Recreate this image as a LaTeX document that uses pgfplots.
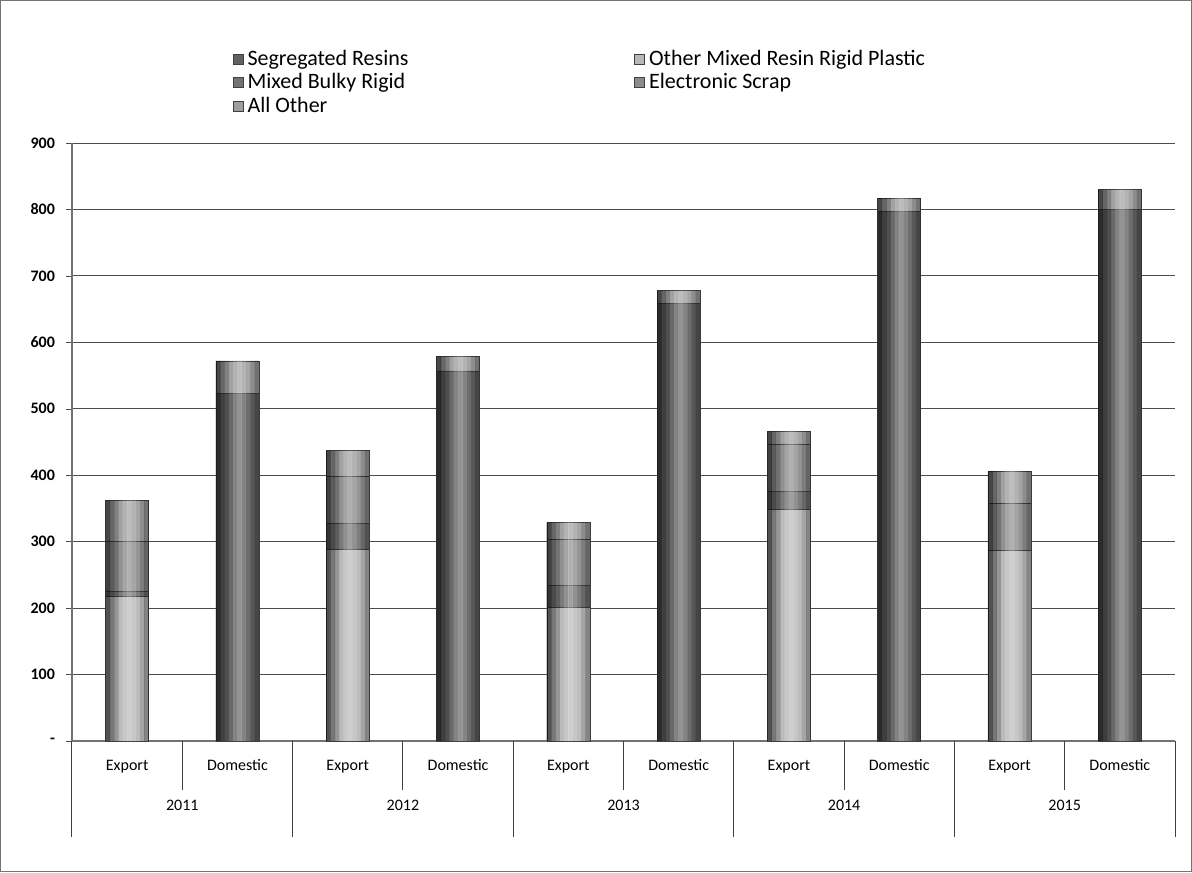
\documentclass[border=0pt]{standalone}
\usepackage{fontspec}
\setmainfont{Carlito}
\usepackage{pgfplots}
\usepackage{pgfplotstable}
\pgfplotsset{compat=1.18}

% bottom to top: Segregated Resins, Other Mixed Resin, Mixed Bulky, Electronic Scrap, All Other
\pgfplotstableread{
x SR OMR MBR ES AO tot
0 0 217 8 75 62 362
1 523 0 0 0 49 572
2 0 288 40 71 38 437
3 557 0 0 0 22 579
4 0 201 33 70 25 329
5 659 0 0 0 19 678
6 0 349 26 72 19 466
7 797 0 0 0 20 817
8 0 287 0 70 49 406
9 800 0 0 0 30 830
}\data

\pgfplotsset{
  base/.style={
    at={(36pt,65.5pt)}, anchor=south west,
    width=551.5pt, height=299pt, scale only axis,
    xmin=-0.5, xmax=9.5, ymin=0, ymax=900,
  },
  seg/.style={draw=black!75, line width=0.35pt, fill=#1},
  stripe/.style={ybar, bar width=2.3pt, bar shift=#1, draw=none, forget plot},
}

\begin{document}
\begin{tikzpicture}
\path[use as bounding box] (0pt,0pt) rectangle (596pt,436pt);
\draw[black!55, line width=0.6pt] (0.4pt,0.4pt) rectangle (595.6pt,435.6pt);
\begin{axis}[
    base,
    ybar stacked, bar width=21.5pt,
    ytick={0,100,...,900},
    yticklabels={\textup{-},100,200,300,400,500,600,700,800,900},
    xtick=\empty,
    ymajorgrids,
    grid style={black!70, line width=0.5pt},
    axis x line*=bottom, axis y line*=left,
    axis line style={-, black!55, line width=0.6pt},
    tick align=outside, major tick length=3pt,
    y tick style={black!70},
    y tick label style={font=\fontsize{8}{9}\selectfont\bfseries, xshift=-2pt},
    clip=false,
    legend columns=2,
    legend cell align=left,
    legend style={at={(axis description cs:0.14,1.170)}, anchor=north west,
        draw=none, fill=none, font=\fontsize{11}{12}\selectfont,
        /tikz/every even column/.append style={column sep=111pt},
        row sep=-1.2pt},
    legend image code/.code={\fill[#1] (0pt,-2.5pt) rectangle (5pt,2.5pt);},
]
\addplot[seg=black!62] table[x=x,y=SR] {\data};
\addlegendentry{Segregated Resins}
\addplot[seg=black!28] table[x=x,y=OMR] {\data};
\addlegendentry{Other Mixed Resin Rigid Plastic}
\addplot[seg=black!55] table[x=x,y=MBR] {\data};
\addlegendentry{Mixed Bulky Rigid}
\addplot[seg=black!45] table[x=x,y=ES] {\data};
\addlegendentry{Electronic Scrap}
\addplot[seg=black!38] table[x=x,y=AO] {\data};
\addlegendentry{All Other}

% category axis: separators and labels
\pgfplotsinvokeforeach{0.5,2.5,4.5,6.5,8.5}{
  \draw[black!75, line width=0.5pt] (axis cs:#1,0) -- ([yshift=-24.5pt]axis cs:#1,0);
}
\pgfplotsinvokeforeach{-0.5,1.5,3.5,5.5,7.5,9.5}{
  \draw[black!75, line width=0.5pt] (axis cs:#1,0) -- ([yshift=-48pt]axis cs:#1,0);
}
\pgfplotsinvokeforeach{0,2,4,6,8}{
  \node[font=\fontsize{8}{9}\selectfont, text height=1.6ex, text depth=0.4ex] at ([yshift=-12pt]axis cs:#1,0) {Export};
}
\pgfplotsinvokeforeach{1,3,5,7,9}{
  \node[font=\fontsize{8}{9}\selectfont, text height=1.6ex, text depth=0.4ex] at ([yshift=-12pt]axis cs:#1,0) {Domestic};
}
\node[font=\fontsize{8}{9}\selectfont] at ([yshift=-32pt]axis cs:0.5,0) {2011};
\node[font=\fontsize{8}{9}\selectfont] at ([yshift=-32pt]axis cs:2.5,0) {2012};
\node[font=\fontsize{8}{9}\selectfont] at ([yshift=-32pt]axis cs:4.5,0) {2013};
\node[font=\fontsize{8}{9}\selectfont] at ([yshift=-32pt]axis cs:6.5,0) {2014};
\node[font=\fontsize{8}{9}\selectfont] at ([yshift=-32pt]axis cs:8.5,0) {2015};
\end{axis}

% cylinder-like shading laid over the stacks, in ten thin strips
\begin{axis}[base, hide axis]
\addplot[stripe=-9.675pt, fill=black, fill opacity=0.55] table[x=x,y=tot] {\data};
\addplot[stripe=-7.525pt, fill=black, fill opacity=0.35] table[x=x,y=tot] {\data};
\addplot[stripe=-5.375pt, fill=black, fill opacity=0.18] table[x=x,y=tot] {\data};
\addplot[stripe=-3.225pt, fill=white, fill opacity=0.05] table[x=x,y=tot] {\data};
\addplot[stripe=-1.075pt, fill=white, fill opacity=0.22] table[x=x,y=tot] {\data};
\addplot[stripe=1.075pt, fill=white, fill opacity=0.32] table[x=x,y=tot] {\data};
\addplot[stripe=3.225pt, fill=white, fill opacity=0.22] table[x=x,y=tot] {\data};
\addplot[stripe=5.375pt, fill=white, fill opacity=0.08] table[x=x,y=tot] {\data};
\addplot[stripe=7.525pt, fill=black, fill opacity=0.1] table[x=x,y=tot] {\data};
\addplot[stripe=9.675pt, fill=black, fill opacity=0.28] table[x=x,y=tot] {\data};
\end{axis}
\end{tikzpicture}
\end{document}
